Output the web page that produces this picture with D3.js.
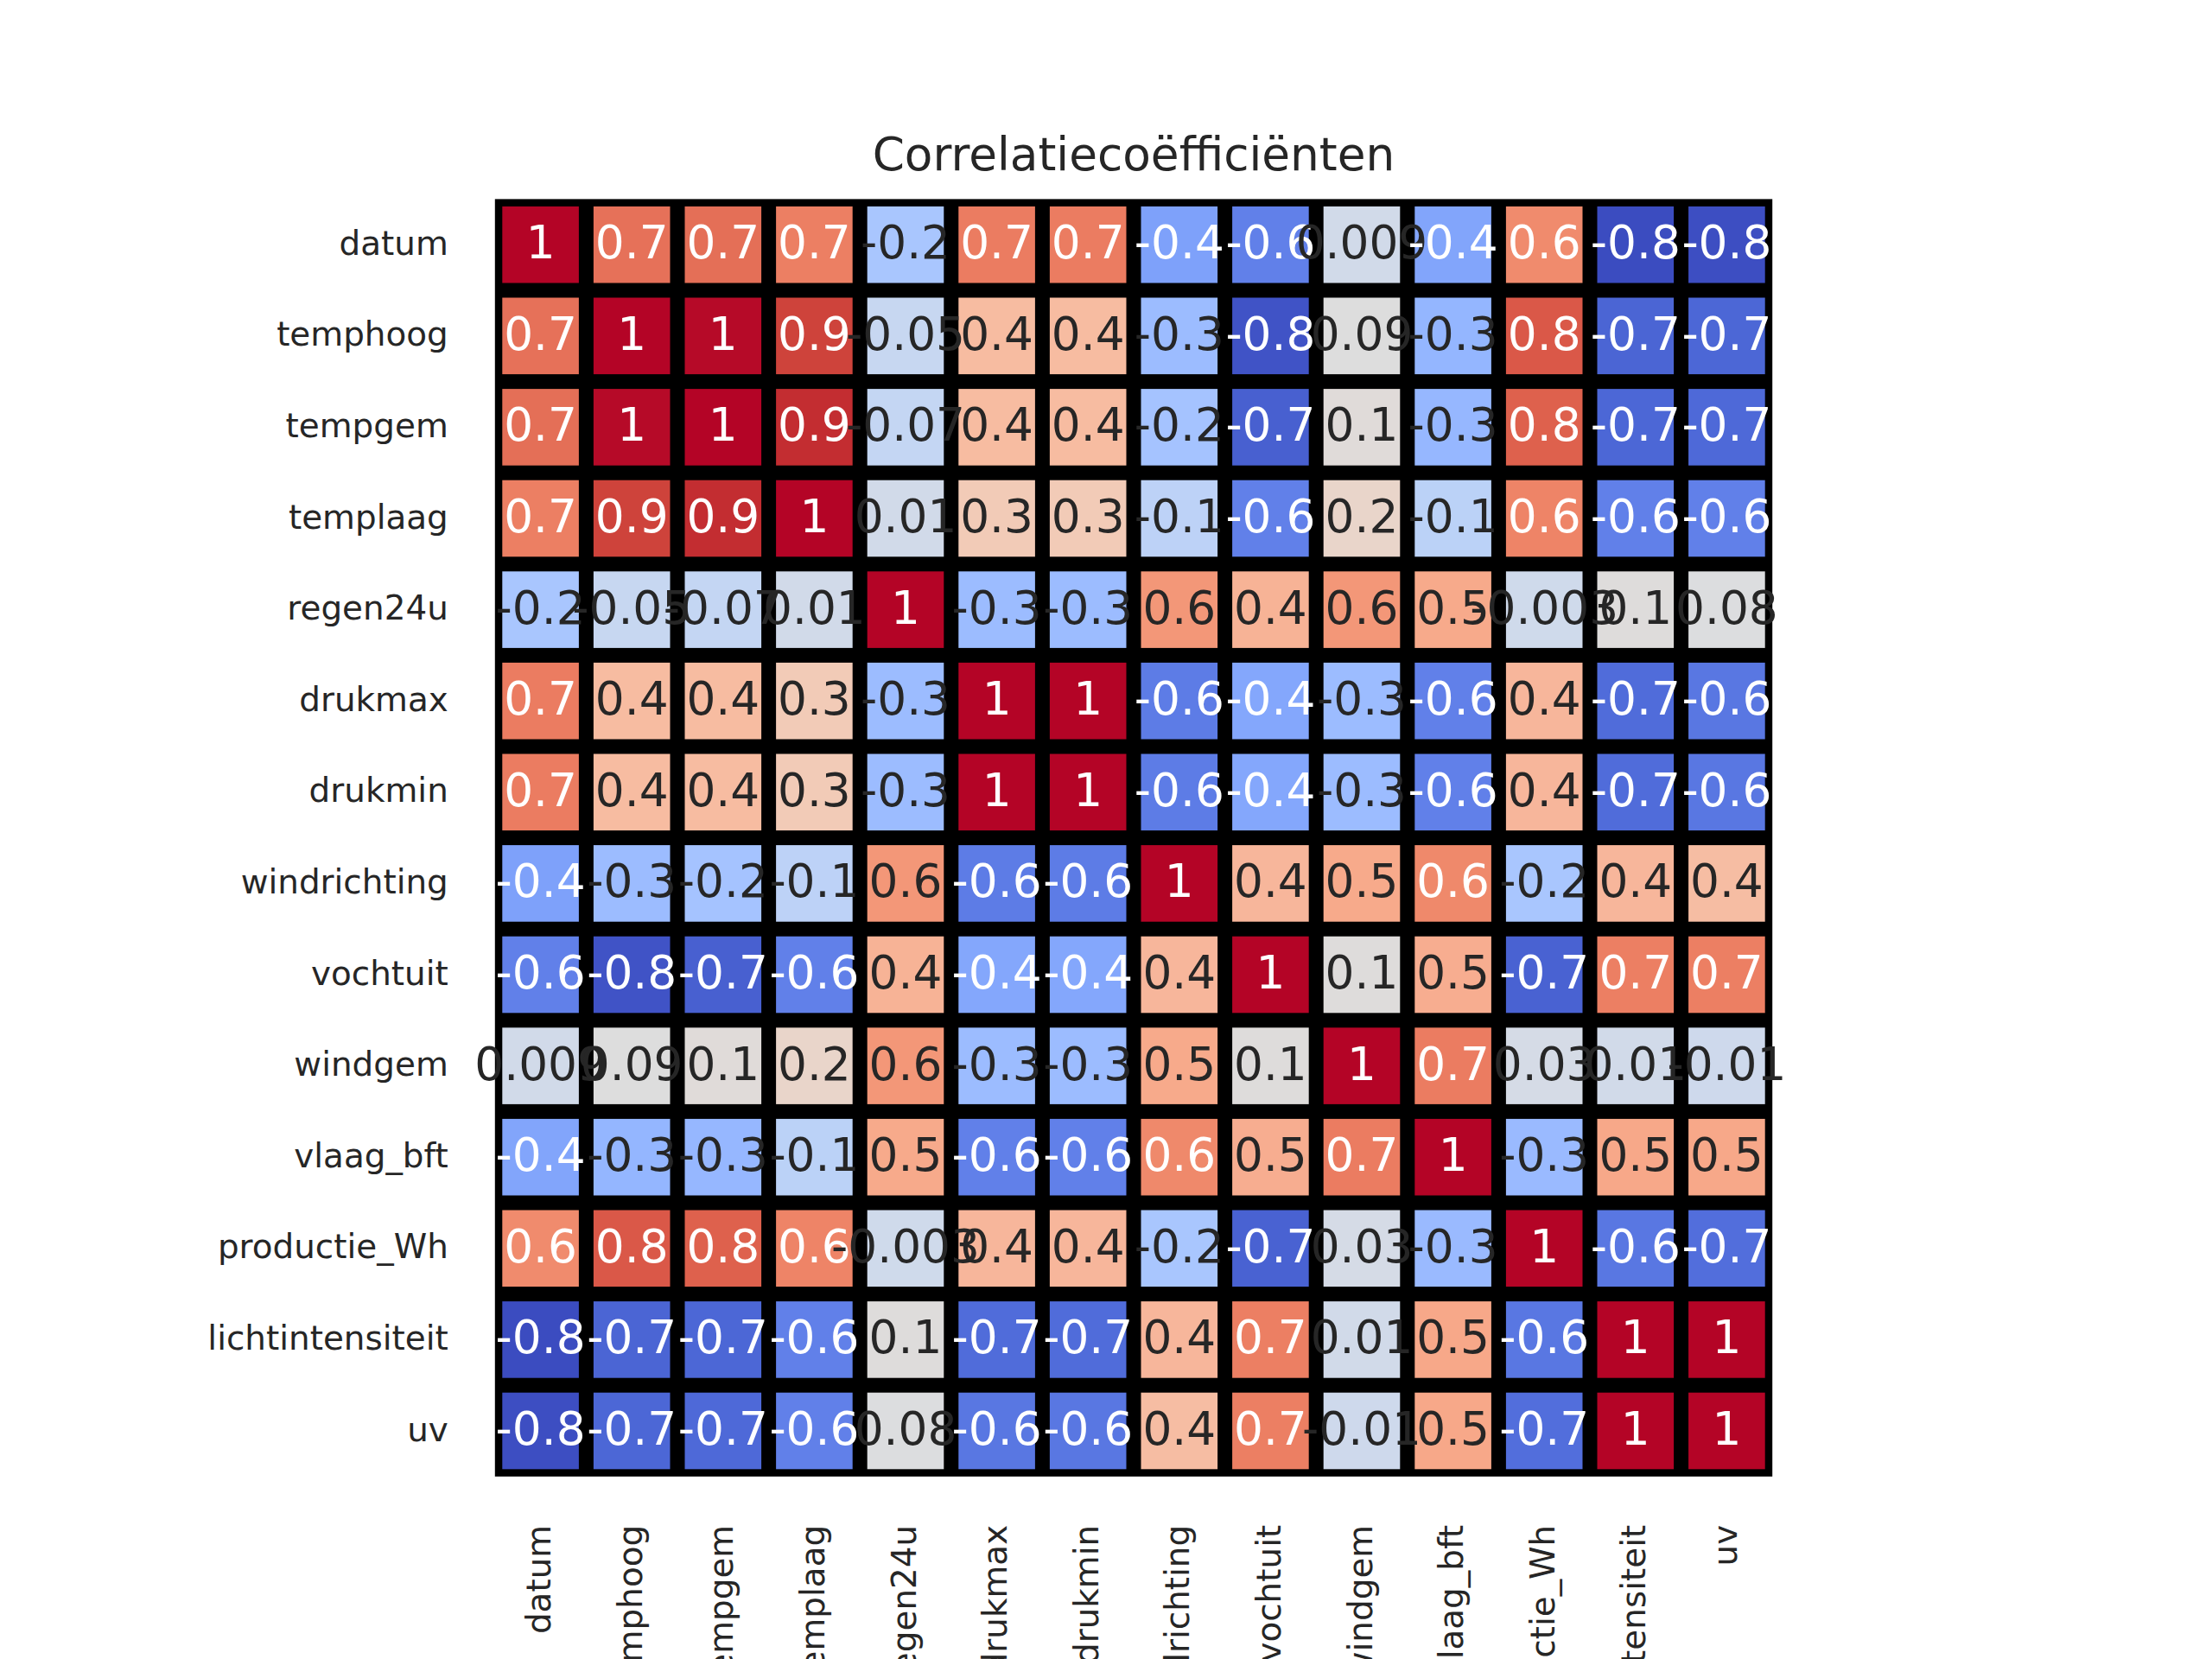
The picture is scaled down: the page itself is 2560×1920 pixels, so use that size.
<!DOCTYPE html>
<html>
<head>
<meta charset="utf-8">
<script src="https://cdn.jsdelivr.net/npm/d3@7"></script>
<style>
  body { margin: 0; background: #fff; }
  text { font-family: "DejaVu Sans", sans-serif; }
</style>
</head>
<body>
<div id="chart"></div>
<script>
// variabelen (rijen en kolommen)
const variables = ["datum", "temphoog", "tempgem", "templaag", "regen24u", "drukmax", "drukmin",
  "windrichting", "vochtuit", "windgem", "vlaag_bft", "productie_Wh", "lichtintensiteit", "uv"];

// correlatiematrix, rij voor rij
const rowDatum       = [1, 0.71, 0.72, 0.66, -0.22, 0.67, 0.67, -0.44, -0.60, 0.009, -0.42, 0.61, -0.82, -0.81];
const rowTemphoog    = [0.71, 1, 0.99, 0.87, -0.05, 0.37, 0.37, -0.29, -0.79, 0.09, -0.33, 0.80, -0.72, -0.71];
const rowTempgem     = [0.72, 0.99, 1, 0.93, -0.07, 0.37, 0.37, -0.24, -0.74, 0.11, -0.32, 0.77, -0.71, -0.70];
const rowTemplaag    = [0.66, 0.87, 0.93, 1, 0.01, 0.27, 0.27, -0.11, -0.60, 0.18, -0.12, 0.64, -0.60, -0.60];
const rowRegen24u    = [-0.22, -0.05, -0.07, 0.01, 1, -0.29, -0.29, 0.56, 0.42, 0.56, 0.47, -0.003, 0.10, 0.08];
const rowDrukmax     = [0.67, 0.37, 0.37, 0.27, -0.29, 1, 1, -0.62, -0.41, -0.29, -0.60, 0.40, -0.69, -0.64];
const rowDrukmin     = [0.67, 0.37, 0.37, 0.27, -0.29, 1, 1, -0.62, -0.41, -0.29, -0.60, 0.40, -0.69, -0.64];
const rowWindricht   = [-0.44, -0.29, -0.24, -0.11, 0.56, -0.62, -0.62, 1, 0.40, 0.47, 0.62, -0.22, 0.40, 0.36];
const rowVochtuit    = [-0.60, -0.79, -0.74, -0.60, 0.42, -0.41, -0.41, 0.40, 1, 0.10, 0.45, -0.73, 0.66, 0.66];
const rowWindgem     = [0.009, 0.09, 0.11, 0.18, 0.56, -0.29, -0.29, 0.47, 0.10, 1, 0.67, 0.03, 0.01, -0.01];
const rowVlaag       = [-0.42, -0.33, -0.32, -0.12, 0.47, -0.60, -0.60, 0.62, 0.45, 0.67, 1, -0.30, 0.48, 0.48];
const rowProductie   = [0.61, 0.80, 0.77, 0.64, -0.003, 0.40, 0.40, -0.22, -0.73, 0.03, -0.30, 1, -0.64, -0.68];
const rowLicht       = [-0.82, -0.72, -0.71, -0.60, 0.10, -0.69, -0.69, 0.40, 0.66, 0.01, 0.48, -0.64, 1, 1];
const rowUv          = [-0.81, -0.71, -0.70, -0.60, 0.08, -0.64, -0.64, 0.36, 0.66, -0.01, 0.48, -0.68, 1, 1];

const matrix = [rowDatum, rowTemphoog, rowTempgem, rowTemplaag, rowRegen24u, rowDrukmax, rowDrukmin,
  rowWindricht, rowVochtuit, rowWindgem, rowVlaag, rowProductie, rowLicht, rowUv];

const titleText = "Correlatiecoëfficiënten";

// coolwarm (Moreland) steunpunten
const coolwarmRGB = [
  [59,76,192],[68,90,204],[77,104,215],[87,117,225],[98,130,234],[108,142,241],[119,154,247],
  [130,165,251],[141,176,254],[152,185,255],[163,194,255],[174,201,253],[184,208,249],[194,213,244],
  [204,217,238],[213,219,230],[221,221,221],[229,216,209],[236,211,197],[241,204,185],[245,196,173],
  [247,187,160],[247,177,148],[247,166,135],[244,154,123],[241,141,111],[236,127,99],[229,112,88],
  [222,96,77],[213,80,66],[203,62,56],[192,40,47],[180,4,38]];

const W = 2560, H = 1920;
const axTop = 230.4, axBottom = 1708.8;
const side = axBottom - axTop;
const axLeft = 320 + (1984 - side) / 2;
const lineW = 17;

const cells = [];
matrix.forEach((row, i) => row.forEach((v, j) => cells.push({ r: variables[i], c: variables[j], v })));

const vmin = d3.min(cells, d => d.v), vmax = d3.max(cells, d => d.v);
const cw = d3.scaleLinear()
  .domain(coolwarmRGB.map((_, i) => i / (coolwarmRGB.length - 1)))
  .range(coolwarmRGB.map(c => d3.rgb(c[0], c[1], c[2])))
  .interpolate(d3.interpolateRgb);
const norm = d3.scaleLinear().domain([vmin, vmax]).range([0, 1]).clamp(true);
const color = v => cw(norm(v));

// tekstkleur zoals seaborn: donker op lichte cellen, wit op donkere
function textColor(c) {
  const rgb = d3.rgb(c);
  const lin = [rgb.r, rgb.g, rgb.b].map(x => {
    x /= 255;
    return x <= 0.03928 ? x / 12.92 : Math.pow((x + 0.055) / 1.055, 2.4);
  });
  const lum = 0.2126 * lin[0] + 0.7152 * lin[1] + 0.0722 * lin[2];
  return lum > 0.408 ? "#262626" : "#ffffff";
}

// .1g met gewoon koppelteken als minteken
const fmt = v => d3.format(".1g")(v).replace("\u2212", "-");

const svg = d3.select("#chart").append("svg")
  .attr("width", W).attr("height", H);

const x = d3.scaleBand().domain(variables).range([axLeft, axLeft + side]);
const y = d3.scaleBand().domain(variables).range([axTop, axTop + side]);

// zwarte achtergrond = celranden (buitenste helft valt weg door clipping)
svg.append("rect")
  .attr("x", axLeft).attr("y", axTop)
  .attr("width", side).attr("height", side)
  .attr("fill", "#000");

svg.append("g").selectAll("rect")
  .data(cells)
  .enter().append("rect")
  .attr("x", d => x(d.c) + lineW / 2)
  .attr("y", d => y(d.r) + lineW / 2)
  .attr("width", x.bandwidth() - lineW)
  .attr("height", y.bandwidth() - lineW)
  .attr("fill", d => color(d.v));

// annotaties
svg.append("g").selectAll("text")
  .data(cells)
  .enter().append("text")
  .attr("x", d => x(d.c) + x.bandwidth() / 2)
  .attr("y", d => y(d.r) + y.bandwidth() / 2)
  .attr("dy", "0.3em")
  .attr("text-anchor", "middle")
  .style("font-size", "53.3px")
  .attr("fill", d => textColor(color(d.v)))
  .text(d => fmt(d.v));

// Y-as labels
const tickOff = 54;
svg.append("g").selectAll("text")
  .data(variables)
  .enter().append("text")
  .attr("x", axLeft - tickOff)
  .attr("y", d => y(d) + y.bandwidth() / 2)
  .attr("dy", "0.3em")
  .attr("text-anchor", "end")
  .style("font-size", "38.9px")
  .attr("fill", "#262626")
  .text(d => d);

// X-as labels, 90 graden gedraaid
svg.append("g").selectAll("text")
  .data(variables)
  .enter().append("text")
  .attr("transform", d => `translate(${x(d) + x.bandwidth() / 2},${axBottom + tickOff + 2}) rotate(-90)`)
  .attr("dy", "0.3em")
  .attr("text-anchor", "end")
  .style("font-size", "38.9px")
  .attr("fill", "#262626")
  .text(d => d);

// titel
svg.append("text")
  .attr("x", axLeft + side / 2)
  .attr("y", axTop - 33.3)
  .attr("text-anchor", "middle")
  .style("font-size", "53.3px")
  .attr("fill", "#262626")
  .text(titleText);
</script>
</body>
</html>
